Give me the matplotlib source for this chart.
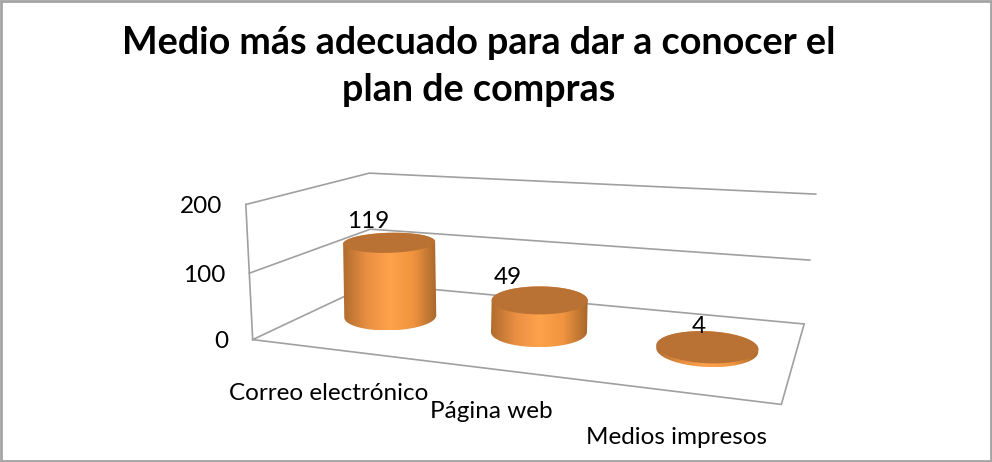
import numpy as np
import matplotlib
matplotlib.use('Agg')
import matplotlib.pyplot as plt
from matplotlib.colors import LinearSegmentedColormap
from matplotlib.patches import Polygon

categories = ['Correo electrónico', 'Página web', 'Medios impresos']
values = [119, 49, 4]
y_ticks = [0, 100, 200]
title_lines = ['Medio más adecuado para dar a conocer el', 'plan de compras']

W, H = 992, 462
plt.rcParams['font.family'] = ['Lato', 'DejaVu Sans']

# the walls and floor as seen in the picture: (category, depth, value) -> pixel
world = [(0, 0, 0), (0, 0, 100), (0, 0, 200),
         (0, 1, 0), (0, 1, 100), (0, 1, 200),
         (3, 1, 0), (3, 1, 100), (3, 1, 200),
         (3, 0, 0)]
pixels = [(255, 339), (250, 273), (243, 204),
          (369, 285), (370, 229), (372, 173),
          (805, 322), (810, 260), (815, 195),
          (781, 406)]


def fit_camera(world, pixels):
    rows = []
    rhs = []
    for (a, b, c), (x, y) in zip(world, pixels):
        rows.append([a, b, c, 1, 0, 0, 0, 0, -x*a, -x*b, -x*c])
        rows.append([0, 0, 0, 0, a, b, c, 1, -y*a, -y*b, -y*c])
        rhs += [x, y]
    sol = np.linalg.lstsq(np.array(rows, float), np.array(rhs, float), rcond=None)[0]
    return np.append(sol, 1).reshape(3, 4)


cam = fit_camera(world, pixels)


def project(a, b, c):
    a, b, c = np.broadcast_arrays(a, b, c)
    p = cam @ np.vstack([a.ravel(), b.ravel(), c.ravel(), np.ones(a.size)])
    return p[0]/p[2], p[1]/p[2]


def ellipse(cx, cy, rx, ry, tilt, t):
    ct, st = np.cos(np.radians(tilt)), np.sin(np.radians(tilt))
    ex, ey = rx*np.cos(t), ry*np.sin(t)
    return cx + ex*ct - ey*st, cy + ex*st + ey*ct


fig = plt.figure(figsize=(W/100, H/100), dpi=100)
ax = fig.add_axes([0, 0, 1, 1])
ax.set_xlim(0, W)
ax.set_ylim(H, 0)
ax.axis('off')

# frame
ax.add_patch(plt.Rectangle((1, 1), W-2, H-2, fill=False, ec='#a3a3a3', lw=2))

# title
for i, line in enumerate(title_lines):
    ax.text(479, 43+i*47, line, ha='center', va='center', fontsize=27.2, fontweight='bold', color='black')

# grid
grid = '#a0a0a0'
for v in y_ticks:
    x, y = project([0, 0, 3], [0, 1, 1], [v, v, v])
    ax.plot(x, y, color=grid, lw=1.2, zorder=1)
x, y = project([0, 0], [0, 0], [y_ticks[0], y_ticks[-1]])
ax.plot(x, y, color=grid, lw=1.2, zorder=1)
x, y = project([0, 3, 3], [0, 0, 1], [0, 0, 0])
ax.plot(x, y, color=grid, lw=1.2, zorder=1)

for v in y_ticks:
    x, y = project(0, 0, v)
    ax.text(x[0]-24, y[0]+2, str(v), ha='right', va='center', fontsize=17.5)

# cylinders
side_cmap = LinearSegmentedColormap.from_list('side', ['#b06c2e', '#e88f42', '#ffa24c', '#f0943f', '#a8672c'])
ramp = np.linspace(0, 1, 256).reshape(1, -1)
half_width = [46, 48, 51]
base_ry = [14, 15, 17]
top_ry = [10, 14, 16]
tilt = [-1.5, 0, 2.5]
depth = 0.5
shift = 0.53
label_dx = [-21, -32, -9]
label_dy = [-21, -23, -21]

for i, v in enumerate(values):
    cx0, cy0 = project(i + shift, depth, 0)
    cx1, cy1 = project(i + shift, depth, v)
    rx = half_width[i]
    xb, yb = ellipse(cx0[0], cy0[0], rx, base_ry[i], tilt[i], np.linspace(0, np.pi, 91))
    xt, yt = ellipse(cx1[0], cy1[0], rx, top_ry[i], tilt[i], np.linspace(np.pi, 2*np.pi, 91))
    hull = Polygon(np.c_[np.r_[xb, xt], np.r_[yb, yt]], closed=True, fc='none', ec='none')
    ax.add_patch(hull)
    im = ax.imshow(ramp, extent=[min(xb.min(), xt.min()), max(xb.max(), xt.max()),
                                 max(yb.max(), yt.max()), min(yb.min(), yt.min())],
                   cmap=side_cmap, aspect='auto', zorder=3)
    im.set_clip_path(hull)
    xe, ye = ellipse(cx1[0], cy1[0], rx, top_ry[i], tilt[i], np.linspace(0, 2*np.pi, 181))
    ax.fill(xe, ye, color='#b97233', lw=0, zorder=4)
    ax.text(cx1[0]+label_dx[i], cy1[0]+label_dy[i], str(v), ha='center', va='center', fontsize=17.5, zorder=5)

ax.set_xlim(0, W)
ax.set_ylim(H, 0)

# category labels sit below the front edge
label_x = [329, 491, 676]
label_y = [393, 412, 438]
for name, x, y in zip(categories, label_x, label_y):
    ax.text(x, y, name, ha='center', va='center', fontsize=17.5)

fig.savefig('out.png', dpi=100)
